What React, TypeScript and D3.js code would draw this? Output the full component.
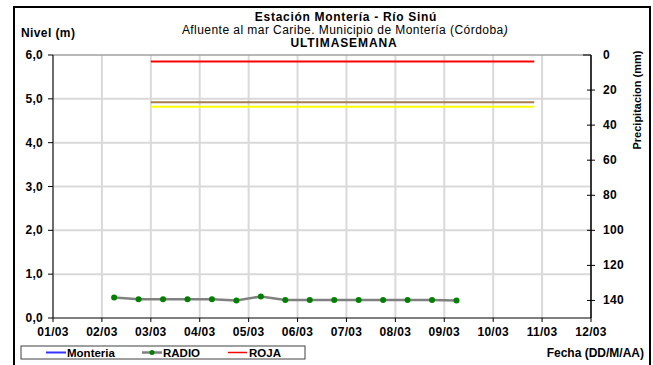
import React from 'react';
import * as d3 from 'd3';

// x axis categories (days of March)
const dayLabels = ['01/03', '02/03', '03/03', '04/03', '05/03', '06/03', '07/03', '08/03', '09/03', '10/03', '11/03', '12/03'];
const nivelTicks = ['0,0', '1,0', '2,0', '3,0', '4,0', '5,0', '6,0'];
const precipTicks = [0, 20, 40, 60, 80, 100, 120, 140];

// RADIO readings: time in days since 01/03 00:00, level in m
const radioTime = [1.25, 1.75, 2.25, 2.75, 3.25, 3.75, 4.25, 4.75, 5.25, 5.75, 6.25, 6.75, 7.25, 7.75, 8.25];
const radioNivel = [0.47, 0.43, 0.43, 0.43, 0.43, 0.40, 0.49, 0.41, 0.41, 0.41, 0.41, 0.41, 0.41, 0.41, 0.40];

// alert thresholds (m)
const alertNames = ['ROJA', 'NARANJA', 'AMARILLA'];
const alertLevels = [5.85, 4.92, 4.82];
const alertColors = ['#ff0000', '#a67c52', '#ffff00'];
const alertStart = 2;
const alertEnd = 9.84;

const font = 'Arial, "Liberation Sans", sans-serif';

export default function App() {
  const width = 653;
  const height = 365;
  const margin = { left: 53, right: 591, top: 55, bottom: 318 };

  const x = d3.scaleLinear().domain([0, 11]).range([margin.left, margin.right]);
  const y = d3.scaleLinear().domain([0, 6]).range([margin.bottom, margin.top]);
  const yR = d3.scaleLinear().domain([0, 150]).range([margin.top, margin.bottom]);

  const line = d3.line<number>()
    .x((_, i) => x(radioTime[i]))
    .y(d => y(d));

  return (
    <svg width={width} height={height} style={{ position: 'absolute', left: 0, top: 0, background: '#fff' }} fontFamily={font}>
      {/* outer frame */}
      <rect x={14} y={7} width={636} height={380} fill="none" stroke="#000" strokeWidth={2} />

      {/* titles */}
      <text x={346} y={21} textAnchor="middle" fontSize={12} fontWeight="bold" letterSpacing={0.7}>Estación Montería  - Río Sinú</text>
      <text x={345} y={34} textAnchor="middle" fontSize={12} letterSpacing={0.45}>Afluente al mar Caribe. Municipio de Montería (Córdoba<tspan fontStyle="italic">)</tspan></text>
      <text x={344} y={47} textAnchor="middle" fontSize={12} fontWeight="bold" letterSpacing={0.9}>ULTIMASEMANA</text>
      <text x={21} y={37} fontSize={12} fontWeight="bold" letterSpacing={0.4}>Nivel (m)</text>

      {/* grid */}
      {dayLabels.map((d, i) => (
        <line key={'vg' + d} x1={x(i)} x2={x(i)} y1={margin.top} y2={margin.bottom} stroke="#d9d9d9" strokeWidth={2} />
      ))}
      {nivelTicks.map((t, i) => i > 0 && (
        <line key={'hg' + t} x1={margin.left} x2={margin.right} y1={y(i)} y2={y(i)} stroke={i === 6 ? '#a0a0a0' : '#d9d9d9'} strokeWidth={i === 6 ? 1.5 : 2} />
      ))}

      {/* alert lines */}
      {alertLevels.map((v, i) => (
        <line key={alertNames[i]} x1={x(alertStart)} x2={x(alertEnd)} y1={y(v)} y2={y(v)} stroke={alertColors[i]} strokeWidth={2} />
      ))}

      {/* RADIO series */}
      <path d={line(radioNivel) || ''} fill="none" stroke="#808080" strokeWidth={2.5} />
      {radioNivel.map((v, i) => (
        <circle key={'p' + i} cx={x(radioTime[i])} cy={y(v)} r={3} fill="#008000" />
      ))}

      {/* left axis */}
      <line x1={margin.left} x2={margin.left} y1={margin.top} y2={margin.bottom} stroke="#000" strokeWidth={1} />
      {nivelTicks.map((t, i) => (
        <g key={'ly' + t}>
          <line x1={margin.left - 5} x2={margin.left} y1={y(i)} y2={y(i)} stroke="#000" />
          <text x={43} y={y(i) + 4} textAnchor="end" fontSize={12} fontWeight="bold" letterSpacing={0.3}>{t}</text>
        </g>
      ))}

      {/* bottom axis */}
      <line x1={margin.left} x2={margin.right} y1={margin.bottom} y2={margin.bottom} stroke="#000" strokeWidth={1} />
      {dayLabels.map((d, i) => (
        <g key={'xt' + d}>
          <line x1={x(i)} x2={x(i)} y1={margin.bottom} y2={margin.bottom + 4} stroke="#000" />
          <text x={x(i)} y={336} textAnchor="middle" fontSize={12} fontWeight="bold" letterSpacing={0.3}>{d}</text>
        </g>
      ))}

      {/* right axis */}
      <line x1={margin.right} x2={margin.right} y1={margin.top} y2={margin.bottom} stroke="#000" strokeWidth={1.5} />
      {precipTicks.map(t => (
        <g key={'ry' + t}>
          <line x1={margin.right - (t === 0 ? 8 : 4)} x2={margin.right + (t === 0 ? 0 : 4)} y1={yR(t)} y2={yR(t)} stroke="#000" />
          <text x={603} y={yR(t) + 4} fontSize={12} fontWeight="bold" letterSpacing={0.3}>{t}</text>
        </g>
      ))}
      <text transform="translate(641,100) rotate(-90)" textAnchor="middle" fontSize={11} fontWeight="bold">Precipitacion (mm)</text>

      {/* x label */}
      <text x={644} y={357} textAnchor="end" fontSize={12} fontWeight="bold">Fecha (DD/M/AA)</text>

      {/* legend */}
      <rect x={21} y={346} width={284} height={13} fill="#fff" stroke="#404040" strokeWidth={1} />
      <line x1={46} x2={66} y1={352.5} y2={352.5} stroke="#3333ff" strokeWidth={2} />
      <text x={67} y={357} fontSize={11.5} fontWeight="bold">Monteria</text>
      <line x1={142} x2={162} y1={352.5} y2={352.5} stroke="#808080" strokeWidth={2.5} />
      <circle cx={152} cy={352.5} r={2.5} fill="#008000" />
      <text x={163} y={357} fontSize={11.5} fontWeight="bold">RADIO</text>
      <line x1={228} x2={247} y1={352.5} y2={352.5} stroke="#ff0000" strokeWidth={1.5} />
      <text x={249} y={357} fontSize={11.5} fontWeight="bold">ROJA</text>
    </svg>
  );
}
